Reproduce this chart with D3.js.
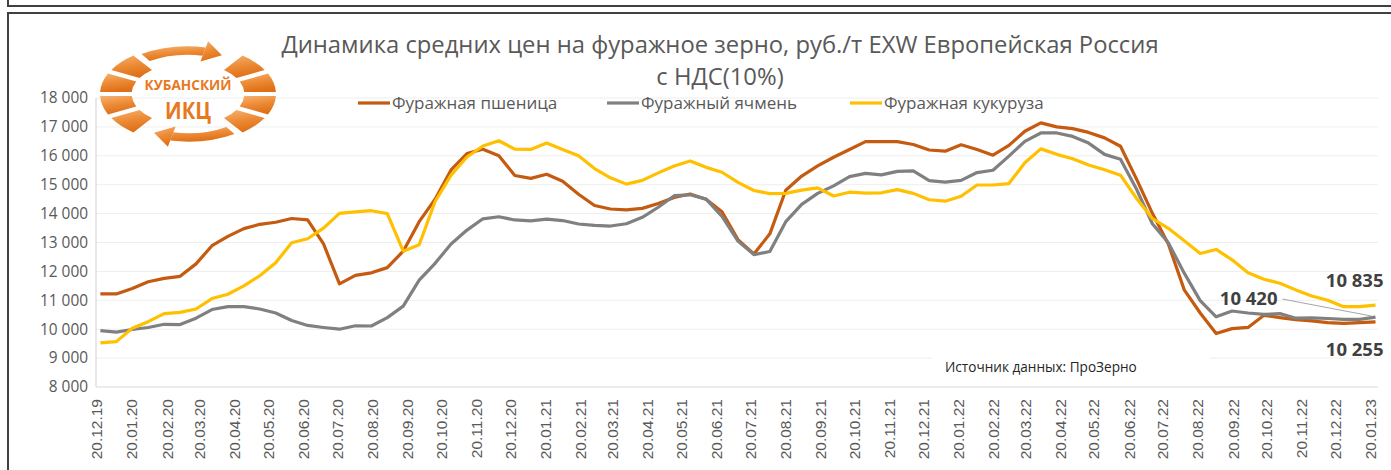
<!DOCTYPE html>
<html>
<head>
<meta charset="utf-8">
<script src="https://cdnjs.cloudflare.com/ajax/libs/d3/7.8.5/d3.min.js"></script>
<style>
  body { margin: 0; background: #fff; }
  svg text { font-family: "Open Sans", sans-serif; }
</style>
</head>
<body>
<script>
// series, roughly every two weeks, 23.12.2019 .. 24.01.2023
var startDate = new Date(2019, 11, 23),
    endDate = new Date(2023, 0, 24);

var wheat = [11220, 11220, 11410, 11640, 11760, 11830, 12260, 12890, 13210, 13480,
  13630, 13700, 13830, 13780, 12950, 11570, 11860, 11950, 12130, 12700,
  13720, 14500, 15510, 16080, 16230, 16000, 15320, 15220, 15360, 15120,
  14670, 14280, 14160, 14130, 14180, 14350, 14560, 14680, 14500, 14060,
  13100, 12600, 13300, 14810, 15300, 15650, 15950, 16220, 16490, 16490,
  16490, 16390, 16200, 16160, 16380, 16220, 16020, 16360, 16850, 17140,
  17000, 16940, 16810, 16620, 16330, 15200, 14010, 12950, 11360, 10560,
  9850, 10020, 10060, 10480, 10400, 10330, 10290, 10230, 10200, 10230, 10255];

var barley = [9950, 9900, 9990, 10060, 10170, 10160, 10380, 10680, 10780, 10780,
  10700, 10560, 10300, 10130, 10060, 10000, 10120, 10110, 10400, 10800,
  11700, 12280, 12950, 13430, 13820, 13890, 13780, 13750, 13810, 13760,
  13640, 13590, 13570, 13650, 13870, 14220, 14620, 14650, 14500, 13900,
  13050, 12580, 12690, 13720, 14320, 14700, 14960, 15280, 15390, 15340,
  15460, 15480, 15140, 15090, 15150, 15420, 15500, 15990, 16500, 16790,
  16790, 16670, 16440, 16050, 15880, 14850, 13650, 12990, 11940, 10990,
  10430, 10630, 10560, 10510, 10540, 10380, 10390, 10370, 10340, 10340, 10420];

var corn = [9530, 9570, 10030, 10260, 10540, 10580, 10700, 11060, 11210, 11500,
  11850, 12300, 12990, 13130, 13500, 14010, 14060, 14100, 14000, 12700,
  12920, 14420, 15330, 15960, 16340, 16520, 16230, 16220, 16440, 16220,
  16000, 15560, 15240, 15020, 15150, 15410, 15650, 15820, 15600, 15430,
  15080, 14800, 14690, 14700, 14810, 14890, 14610, 14740, 14710, 14720,
  14830, 14700, 14480, 14430, 14600, 14990, 14990, 15040, 15760, 16240,
  16050, 15900, 15680, 15520, 15330, 14530, 13830, 13490, 13060, 12620,
  12760, 12400, 11950, 11730, 11590, 11360, 11150, 11000, 10780, 10780, 10835];

var seriesNames = ["Фуражная пшеница", "Фуражный ячмень", "Фуражная кукуруза"];
var seriesColors = ["#C55A11", "#808080", "#FFC000"];
var yTicks = [8000, 9000, 10000, 11000, 12000, 13000, 14000, 15000, 16000, 17000, 18000];
var xTickDates = d3.range(38).map(function(i) { return new Date(2019, 11 + i, 20); });

var titleLines = ["Динамика средних цен на фуражное зерно, руб./т EXW Европейская Россия", "с НДС(10%)"];
var sourceText = "Источник данных: ПроЗерно";

var width = 1391, height = 470;
var n = wheat.length;
var dates = d3.range(n).map(function(i) {
  return new Date(+startDate + i * (endDate - startDate) / (n - 1));
});

var x = d3.scaleTime()
  .domain([new Date(2019, 11, 20), new Date(2023, 0, 20)])
  .range([97, 1371]);
var y = d3.scaleLinear().domain([8000, 18000]).range([387, 98]);
var plotLeft = 96, plotRight = 1378;

var fmtNum = function(v) { return d3.format(",")(v).replace(/,/g, " "); };
var fmtDate = d3.timeFormat("%d.%m.%y");

var svg = d3.select("body").append("svg")
  .attr("width", width).attr("height", height);

// frames
svg.append("path").attr("d", "M8,0V6H1391").attr("fill", "none")
  .attr("stroke", "#404040").attr("stroke-width", 2);
svg.append("path").attr("d", "M1391,13H8V470").attr("fill", "none")
  .attr("stroke", "#404040").attr("stroke-width", 2);

// gridlines
svg.append("g").selectAll("line")
  .data(yTicks.slice(1))
  .enter().append("line")
  .attr("x1", plotLeft).attr("x2", plotRight)
  .attr("y1", function(d) { return y(d); })
  .attr("y2", function(d) { return y(d); })
  .attr("stroke", "#eeeeee").attr("stroke-width", 1);

svg.append("line").attr("x1", plotLeft).attr("x2", plotRight)
  .attr("y1", y(8000)).attr("y2", y(8000))
  .attr("stroke", "#d9d9d9").attr("stroke-width", 1.2);
svg.append("line").attr("x1", plotLeft).attr("x2", plotLeft)
  .attr("y1", y(18000)).attr("y2", y(8000))
  .attr("stroke", "#d9d9d9").attr("stroke-width", 1.2);

// y labels
svg.append("g").selectAll("text")
  .data(yTicks)
  .enter().append("text")
  .attr("x", 88).attr("y", function(d) { return y(d); })
  .attr("dy", "0.35em")
  .attr("text-anchor", "end")
  .attr("fill", "#595959").style("font-size", "15.4px")
  .text(fmtNum);

// x labels
svg.append("g").selectAll("text")
  .data(xTickDates)
  .enter().append("text")
  .attr("transform", function(d) { return "translate(" + x(d) + ",399) rotate(-90)"; })
  .attr("dy", "0.35em")
  .attr("text-anchor", "end")
  .attr("fill", "#595959")
  .style("font-family", "'Liberation Sans', Arial, sans-serif")
  .style("font-size", "15.5px")
  .text(fmtDate);

// logo: ring of grains with two arrows
var defs = svg.append("defs");
var grad = defs.append("linearGradient")
  .attr("id", "lg").attr("x1", 0).attr("y1", 0).attr("x2", 0.3).attr("y2", 1);
grad.append("stop").attr("offset", "0%").attr("stop-color", "#F6B273");
grad.append("stop").attr("offset", "55%").attr("stop-color", "#EC8A34");
grad.append("stop").attr("offset", "100%").attr("stop-color", "#DF7018");

var logo = svg.append("g").attr("transform", "translate(188,94) scale(88,49)");
var deg = Math.PI / 180;
var grains = [];
[[36, 144], [216, 324]].forEach(function(r) {
  var step = (r[1] - r[0]) / 4;
  for (var k = 0; k < 4; k++) grains.push([r[0] + k * step, r[0] + (k + 1) * step]);
});
var arc = d3.arc().innerRadius(0.64).outerRadius(1).padAngle(0.07);
logo.selectAll("path.grain")
  .data(grains)
  .enter().append("path")
  .attr("class", "grain")
  .attr("d", function(d) { return arc({ startAngle: d[0] * deg, endAngle: d[1] * deg }); })
  .attr("fill", "url(#lg)");
// arrow bands
var band = d3.arc().innerRadius(0.8).outerRadius(0.97);
function pt(a, r) { return [r * Math.sin(a * deg), -r * Math.cos(a * deg)]; }
[[-33, 12], [147, 192]].forEach(function(b) {
  logo.append("path")
    .attr("d", band({ startAngle: b[0] * deg, endAngle: b[1] * deg }))
    .attr("fill", "url(#lg)");
  var p1 = pt(b[1], 0.68), p2 = pt(b[1], 1.1), tip = pt(b[1] + 14, 0.88);
  logo.append("path")
    .attr("d", "M" + p1 + "L" + p2 + "L" + tip + "Z")
    .attr("fill", "url(#lg)");
});

var logoText = svg.append("g").attr("fill", "#E8781E")
  .style("font-family", "'DejaVu Sans Condensed', 'Liberation Sans Narrow', sans-serif")
  .style("font-weight", "bold");
logoText.append("text").attr("x", 188).attr("y", 90)
  .attr("text-anchor", "middle")
  .attr("textLength", 87).attr("lengthAdjust", "spacingAndGlyphs")
  .style("font-size", "15px")
  .text("КУБАНСКИЙ");
logoText.append("text").attr("x", 188).attr("y", 119)
  .attr("text-anchor", "middle")
  .attr("textLength", 46).attr("lengthAdjust", "spacingAndGlyphs")
  .style("font-size", "23px")
  .text("ИКЦ");

// title
svg.append("g").selectAll("text")
  .data(titleLines)
  .enter().append("text")
  .attr("x", 720).attr("y", function(d, i) { return 53 + i * 32; })
  .attr("text-anchor", "middle")
  .attr("fill", "#595959").style("font-size", "23.8px")
  .text(function(d) { return d; });

// lines
var series = [wheat, barley, corn];
var line = d3.line()
  .x(function(d, i) { return x(dates[i]); })
  .y(function(d) { return y(d); });
svg.append("g").selectAll("path")
  .data(series)
  .enter().append("path")
  .attr("d", line)
  .attr("fill", "none")
  .attr("stroke", function(d, i) { return seriesColors[i]; })
  .attr("stroke-width", 3.2)
  .attr("stroke-linejoin", "round");

// legend
var legendX = [358, 607, 850];
var legend = svg.append("g").selectAll("g")
  .data(seriesNames)
  .enter().append("g")
  .attr("transform", function(d, i) { return "translate(" + legendX[i] + ",103)"; });
legend.append("line").attr("x1", 0).attr("x2", 32)
  .attr("stroke", function(d, i) { return seriesColors[i]; })
  .attr("stroke-width", 3.2);
legend.append("text").attr("x", 34).attr("dy", "0.35em")
  .attr("fill", "#595959").style("font-size", "17px")
  .text(function(d) { return d; });

// end labels
var lastDate = dates[n - 1];
var ex = x(lastDate);
var endLabels = svg.append("g").attr("fill", "#404040")
  .style("font-size", "18.5px").style("font-weight", "bold");
endLabels.append("text").attr("x", ex + 8).attr("y", y(corn[n - 1]) - 18)
  .attr("text-anchor", "end")
  .text(fmtNum(corn[n - 1]));
endLabels.append("text").attr("x", ex + 8).attr("y", y(wheat[n - 1]) + 34)
  .attr("text-anchor", "end")
  .text(fmtNum(wheat[n - 1]));
svg.append("line")
  .attr("x1", ex - 93).attr("y1", y(barley[n - 1]) - 18)
  .attr("x2", ex - 4).attr("y2", y(barley[n - 1]) - 1)
  .attr("stroke", "#a6a6a6").attr("stroke-width", 1);
endLabels.append("text").attr("x", ex - 98).attr("y", y(barley[n - 1]) - 12)
  .attr("text-anchor", "end")
  .text(fmtNum(barley[n - 1]));

// source
svg.append("rect").attr("x", 932).attr("y", 355).attr("width", 278).attr("height", 24)
  .attr("fill", "#fff");
svg.append("text").attr("x", 945).attr("y", 372)
  .attr("fill", "#262626").style("font-size", "13.6px")
  .text(sourceText);
</script>
</body>
</html>
